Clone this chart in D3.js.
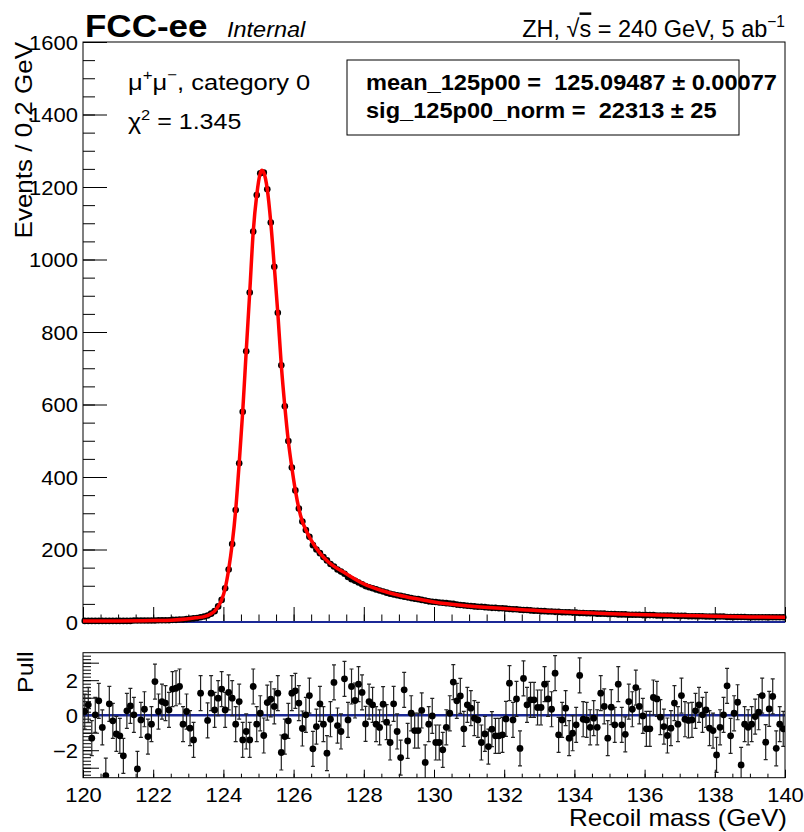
<!DOCTYPE html>
<html>
<head>
<meta charset="utf-8">
<script src="https://cdn.jsdelivr.net/npm/d3@7/dist/d3.min.js"></script>
<style>
  html, body { margin: 0; padding: 0; background: #fff; }
  svg { display: block; font-family: "Liberation Sans", Arial, Helvetica, sans-serif; }
  svg text { white-space: pre; }
</style>
</head>
<body>
<svg id="chart" width="804" height="832"></svg>
<script>
// recoil mass fit, mu mu category 0

// 200 bins of 0.1 GeV between 120 and 140
const binCenters = d3.range(200).map(i => +(120.05 + 0.1 * i).toFixed(2));

// events per bin (black points)
const events = [
  3, 3, 3, 3, 3, 3, 3, 3, 3, 3,
  3, 3, 3, 3, 4, 4, 4, 4, 4, 4,
  4, 5, 5, 5, 5, 6, 6, 7, 7, 8,
  9, 10, 11, 13, 15, 18, 23, 30, 43, 61,
  93, 145, 215, 309, 438, 580, 747, 909, 1077, 1178,
  1238, 1240, 1194, 1102, 980, 853, 708, 595, 499, 426,
  363, 313, 277, 254, 235, 212, 200, 190, 179, 170,
  160, 153, 145, 139, 133, 124, 118, 114, 109, 104,
  99, 96, 93, 90, 87, 84, 81, 78, 76, 74,
  72, 70, 68, 66, 64, 63, 61, 59, 57, 56,
  55, 54, 53, 52, 51, 50, 48, 47, 46, 45,
  44, 43, 42, 42, 41, 40, 39, 39, 38, 38,
  37, 36, 35, 35, 34, 33, 33, 32, 31, 31,
  30, 30, 29, 29, 28, 28, 27, 27, 27, 26,
  26, 25, 25, 24, 24, 24, 23, 23, 23, 22,
  22, 22, 21, 21, 21, 20, 20, 20, 20, 19,
  19, 19, 19, 18, 18, 18, 18, 18, 17, 17,
  17, 17, 16, 16, 16, 16, 16, 15, 15, 15,
  15, 15, 15, 14, 14, 14, 14, 14, 14, 13,
  13, 13, 13, 13, 13, 13, 13, 13, 13, 13
];

// fitted pdf (red curve), sampled along the curve
const fitMass = [
  120.0, 121.0, 122.0, 122.5, 122.95, 123.25, 123.45, 123.65, 123.75, 123.85,
  123.95, 124.05, 124.15, 124.25, 124.35, 124.45, 124.55, 124.65, 124.75, 124.85,
  124.95, 125.05, 125.1, 125.15, 125.25, 125.35, 125.45, 125.55, 125.65, 125.75,
  125.85, 125.95, 126.05, 126.15, 126.25, 126.35, 126.5, 126.75, 127.0, 127.5,
  128.0, 128.5, 129.0, 129.5, 130.0, 131.0, 132.0, 133.0, 134.0, 135.0,
  136.0, 137.0, 138.0, 139.0, 140.0
];
const fitVals = [
  3, 3, 4, 5, 8, 12, 15, 23, 30, 43,
  61, 93, 145, 215, 309, 438, 580, 747, 909, 1077,
  1178, 1238, 1246, 1240, 1194, 1102, 980, 853, 708, 595,
  499, 426, 363, 313, 277, 254, 226, 190, 165, 133,
  105, 87, 74, 64, 55, 44, 37, 31, 27, 23,
  20, 18, 16, 14, 13
];

// pulls per bin (null = not visible in the panel)
const pulls = [
  0.21, 0.59, -1.31, 0.02, 0.82, -0.70, -3.45, 0.65, -0.32, -1.07,
  -1.18, -2.32, 0.25, 0.53, 0.02, -3.07, -0.27, 0.34, -1.22, -0.51,
  1.92, 0.21, 0.78, 0.69, 0.30, 1.49, 1.54, 1.64, -0.51, 0.21,
  -0.74, -1.41, null, 1.26, null, -0.30, 1.26, 0.30, 0.97, 1.49,
  0.30, 1.30, 0.97, -0.51, 0.78, -1.41, -0.93, -1.41, 1.64, -0.51,
  0.11, -1.16, 0.72, 0.91, 0.50, 1.26, -2.13, -1.22, -0.32, 1.26,
  1.39, 0.69, -0.76, 0.02, 1.12, -1.92, -0.65, 0.65, -0.51, -2.17,
  -0.23, 1.87, -0.59, -0.93, 2.08, -0.27, 1.64, 0.84, 1.77, 1.30,
  -0.50, 0.78, 0.59, -0.51, -0.70, 0.63, -0.40, -1.56, 0.65, -0.93,
  -2.42, 1.45, -1.47, 0.11, -0.88, -0.88, 0.27, -2.70, -0.51, -0.04,
  -1.56, -1.56, -1.98, -0.69, 0.11, 1.89, 0.82, 1.10, -0.78, 0.59,
  0.40, -0.17, -0.27, -1.56, -1.07, -1.79, -0.80, -1.18, -1.18, -1.12,
  -0.21, 1.83, -0.27, 0.93, -1.90, 2.10, 0.59, 0.88, 0.88, 0.44,
  0.44, 1.77, 0.93, 0.34, 2.40, -1.12, -0.27, 0.40, -1.31, -1.03,
  -0.55, 2.27, -0.23, -0.27, -0.69, -0.17, -0.69, 1.26, 0.50, -1.31,
  0.46, -0.55, 1.77, -0.55, -1.09, 0.78, 0.34, 1.58, 0.50, -0.04,
  -0.78, -0.78, 1.01, 0.93, -0.11, -0.65, -1.16, -0.74, 0.69, -0.51,
  1.12, -0.23, -0.30, -0.27, 0.25, 0.59, 0.02, 0.30, -0.74, -0.88,
  -2.27, -0.69, 0.02, 1.68, -1.18, 0.11, 0.74, -2.84, -0.51, -0.69,
  -0.51, -0.08, 0.17, 1.12, -1.54, 0.36, 1.07, -1.89, -0.51, -0.78
];

// tick values
const xMajor = [120, 122, 124, 126, 128, 130, 132, 134, 136, 138, 140];
const xMinor = d3.range(120, 140.01, 0.5);
const yMajor = [0, 200, 400, 600, 800, 1000, 1200, 1400, 1600];
const yMinor = d3.range(0, 1600.01, 50);
const pullLabels = [-2, 0, 2];
const pullMajor = [-3, -2, -1, 0, 1, 2, 3];
const pullMinor = d3.range(-3.4, 3.41, 0.2);

// fit results shown in the box
const fitParams = [
  { name: 'mean_125p00 =  125.09487', err: '0.00077' },
  { name: 'sig_125p00_norm =  22313', err: '25' }
];

// ---- layout ----
const SY = 0.9;   // glyphs in the reference are a bit squashed vertically
const main = { left: 83, right: 785, top: 42, bottom: 622 };
const pad = { left: 83, right: 785, top: 652.7, bottom: 777.7 };
const navy = '#1b2896';

const svg = d3.select('#chart');

const x = d3.scaleLinear().domain([120, 140]).range([main.left, main.right]);
const y = d3.scaleLinear().domain([0, 1600]).range([main.bottom, main.top]);
const yp = d3.scaleLinear().domain([-3.57, 3.57]).range([pad.bottom, pad.top]);

// text helper: squashed text with optional superscripts
// parts: array of [string, 'sup'|'over'|undefined]
const put = (parent, px, py, parts, o) => {
  const g = parent.append('g')
    .attr('transform', `translate(${px},${py}) rotate(${o.rot || 0}) scale(1,${o.sy || SY})`);
  const t = g.append('text')
    .attr('text-anchor', o.anchor || 'start')
    .style('font-size', o.size + 'px')
    .style('font-weight', o.weight || 'normal')
    .style('font-style', o.style || 'normal')
    .attr('fill', '#000');
  let raised = false;
  parts.forEach(([s, kind]) => {
    const ts = t.append('tspan').text(s);
    if (kind === 'sup' && !raised) {
      ts.attr('dy', -o.size * 0.42).style('font-size', (o.size * 0.66) + 'px');
      raised = true;
    } else if (kind === 'sup') {
      ts.style('font-size', (o.size * 0.66) + 'px');
    } else if (raised) {
      ts.attr('dy', o.size * 0.42);
      raised = false;
    }
    if (kind === 'over') ts.style('text-decoration', 'overline');
  });
  return t;
};

// ---- main pad ----
const gMain = svg.append('g');

// minor + major y ticks, pointing inwards
const yMinorAxis = d3.axisLeft(y).tickValues(yMinor).tickSize(-12).tickFormat('');
const yMajorAxis = d3.axisLeft(y).tickValues(yMajor).tickSize(-24).tickPadding(5)
  .tickFormat(d3.format('d'));

gMain.append('g').attr('transform', `translate(${main.left},0)`).call(yMinorAxis)
  .call(g => g.select('.domain').remove());
gMain.append('g').attr('transform', `translate(${main.left},0)`).call(yMajorAxis)
  .call(g => g.select('.domain').remove())
  .call(g => g.selectAll('text')
    .attr('transform', `scale(1,${SY})`)
    .attr('dy', '0.36em')
    .style('font-size', '22px')
    .attr('fill', '#000'));

// x ticks on main pad, no labels
gMain.append('g').attr('transform', `translate(0,${main.bottom})`)
  .call(d3.axisBottom(x).tickValues(xMinor).tickSize(-7.5).tickFormat(''))
  .call(g => g.select('.domain').remove());
gMain.append('g').attr('transform', `translate(0,${main.bottom})`)
  .call(d3.axisBottom(x).tickValues(xMajor).tickSize(-15).tickFormat(''))
  .call(g => g.select('.domain').remove());

gMain.selectAll('.tick line').attr('stroke', '#000');

// frame
gMain.append('rect')
  .attr('x', main.left).attr('y', main.top)
  .attr('width', main.right - main.left).attr('height', main.bottom - main.top)
  .attr('fill', 'none').attr('stroke', '#000').attr('stroke-width', 1);

// zero-level background line
gMain.append('line')
  .attr('x1', x(120)).attr('x2', x(140))
  .attr('y1', y(0)).attr('y2', y(0))
  .attr('stroke', navy).attr('stroke-width', 2);

// data points
gMain.append('g').selectAll('circle')
  .data(events)
  .join('circle')
  .attr('cx', (d, i) => x(binCenters[i]))
  .attr('cy', d => y(d))
  .attr('r', 3.3)
  .attr('fill', '#000');

// fit curve on top
const fitLine = d3.line()
  .x(d => x(d[0]))
  .y(d => y(d[1]))
  .curve(d3.curveMonotoneX);

gMain.append('path')
  .datum(fitMass.map((m, i) => [m, fitVals[i]]))
  .attr('d', fitLine)
  .attr('fill', 'none')
  .attr('stroke', '#ff0000')
  .attr('stroke-width', 3.5)
  .attr('stroke-linejoin', 'round');

// parameter box
gMain.append('rect')
  .attr('x', 347).attr('y', 60).attr('width', 392).attr('height', 75)
  .attr('fill', '#fff').attr('stroke', '#000').attr('stroke-width', 1);

fitParams.forEach((p, i) => {
  put(gMain, 366, 90 + i * 28, [[p.name + ' \u00b1 ' + p.err]], { size: 23.6, weight: 'bold' });
});

// category text
put(gMain, 128, 90, [['\u03bc'], ['+', 'sup'], ['\u03bc'], ['\u2212', 'sup'], [', category 0']], { size: 25.5 });
put(gMain, 128, 129, [['\u03c7'], ['2', 'sup'], [' = 1.345']], { size: 25 });

// titles above the frame
put(svg, 85, 37, [['FCC-ee']], { size: 35, weight: 'bold' });
put(svg, 227, 37, [['Internal']], { size: 23.5, style: 'italic' });
put(svg, 785, 37, [['ZH, \u221a'], ['s', 'over'], [' = 240 GeV, 5 ab'], ['\u22121', 'sup']],
  { size: 23.5, anchor: 'end', sy: 1.05 });

// y title
put(svg, 32, 42, [['Events / 0.2 GeV']], { size: 26, anchor: 'end', rot: -90 });

// ---- pull pad ----
const gPull = svg.append('g');

gPull.append('defs').append('clipPath').attr('id', 'pullclip')
  .append('rect')
  .attr('x', pad.left).attr('y', pad.top)
  .attr('width', pad.right - pad.left).attr('height', pad.bottom - pad.top);

gPull.append('g').attr('transform', `translate(${pad.left},0)`)
  .call(d3.axisLeft(yp).tickValues(pullMinor).tickSize(-8).tickFormat(''))
  .call(g => g.select('.domain').remove());
gPull.append('g').attr('transform', `translate(${pad.left},0)`)
  .call(d3.axisLeft(yp).tickValues(pullMajor).tickSize(-16).tickFormat(''))
  .call(g => g.select('.domain').remove());
gPull.append('g').attr('transform', `translate(${pad.left},0)`)
  .call(d3.axisLeft(yp).tickValues(pullLabels).tickSize(0).tickPadding(5)
    .tickFormat(d => d < 0 ? '\u2212' + Math.abs(d) : d))
  .call(g => g.select('.domain').remove())
  .call(g => g.selectAll('text')
    .attr('transform', `scale(1,${SY})`)
    .attr('dy', '0.36em')
    .style('font-size', '22px')
    .attr('fill', '#000'));

// x axis with labels
gPull.append('g').attr('transform', `translate(0,${pad.bottom})`)
  .call(d3.axisBottom(x).tickValues(xMinor).tickSize(-4).tickFormat(''))
  .call(g => g.select('.domain').remove());
gPull.append('g').attr('transform', `translate(0,${pad.bottom})`)
  .call(d3.axisBottom(x).tickValues(xMajor).tickSize(-8).tickPadding(11).tickFormat(d3.format('d')))
  .call(g => g.select('.domain').remove())
  .call(g => g.selectAll('text')
    .attr('transform', `scale(1,${SY})`)
    .style('font-size', '22px')
    .attr('fill', '#000'));

gPull.selectAll('.tick line').attr('stroke', '#000');

// zero line
gPull.append('line')
  .attr('x1', x(120)).attr('x2', x(140))
  .attr('y1', yp(0)).attr('y2', yp(0))
  .attr('stroke', navy).attr('stroke-width', 2.5);

// pulls with +-1 error bars
const pullPts = pulls.map((p, i) => ({ m: binCenters[i], p })).filter(d => d.p !== null);
const gP = gPull.append('g').attr('clip-path', 'url(#pullclip)');

gP.selectAll('g.bar')
  .data(pullPts)
  .join('g')
  .attr('class', 'bar')
  .each(function (d) {
    const g = d3.select(this);
    const cx = x(d.m);
    g.append('line')
      .attr('x1', cx).attr('x2', cx)
      .attr('y1', yp(d.p - 1)).attr('y2', yp(d.p + 1))
      .attr('stroke', '#222').attr('stroke-width', 1.2);
    [d.p - 1, d.p + 1].forEach(v => {
      g.append('line')
        .attr('x1', cx - 2).attr('x2', cx + 2)
        .attr('y1', yp(v)).attr('y2', yp(v))
        .attr('stroke', '#222').attr('stroke-width', 1.2);
    });
  });

gP.selectAll('circle')
  .data(pullPts)
  .join('circle')
  .attr('cx', d => x(d.m))
  .attr('cy', d => yp(d.p))
  .attr('r', 3.4)
  .attr('fill', '#000');

gPull.append('rect')
  .attr('x', pad.left).attr('y', pad.top)
  .attr('width', pad.right - pad.left).attr('height', pad.bottom - pad.top)
  .attr('fill', 'none').attr('stroke', '#000').attr('stroke-width', 1);

// axis titles
put(svg, 33, 693, [['Pull']], { size: 25, rot: -90 });
put(svg, 787, 826, [['Recoil mass (GeV)']], { size: 26, anchor: 'end' });
</script>
</body>
</html>
